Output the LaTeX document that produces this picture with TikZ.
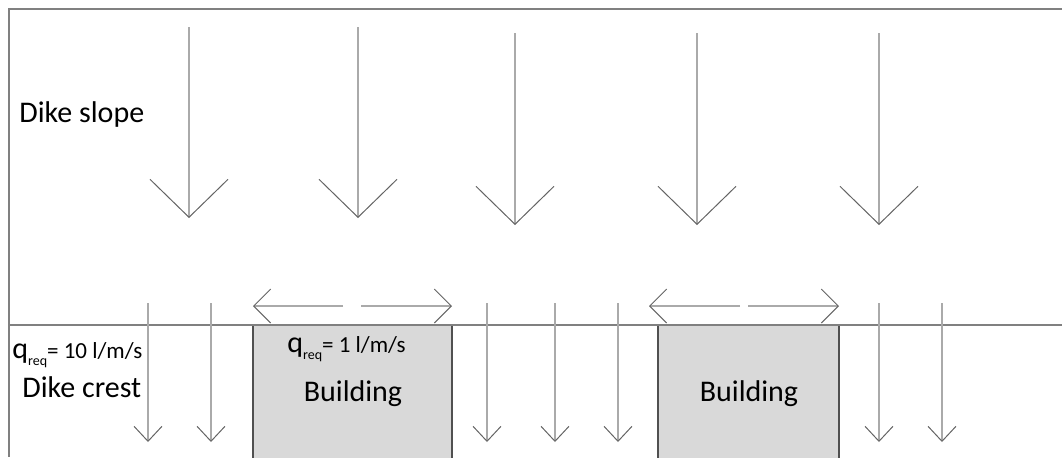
\documentclass[tikz,border=0pt]{standalone}
\usepackage{fontspec}
\setmainfont{Carlito}
\usepackage{tikz}
\usepackage{xcolor}
\usetikzlibrary{arrows.meta, positioning, calc}
\definecolor{cFrame}{RGB}{128,128,128}
\definecolor{cShaft}{RGB}{170,170,170}
\definecolor{cHead}{RGB}{100,100,100}
\definecolor{cWall}{RGB}{80,80,80}
\definecolor{cFill}{RGB}{217,217,217}
\tikzset{
	zoneline/.style ={draw=cFrame, line width=1pt},
	building/.style ={rectangle, draw=cWall, line width=0.6pt, fill=cFill, minimum width=99.5pt, minimum height=70pt, inner sep=0pt},
	slopeflow/.style={draw=cShaft, line width=0.7pt, -{Straight Barb[length=19pt, width=39pt, color=cHead, line width=0.5pt]}},
	crestflow/.style={draw=cShaft, line width=0.7pt, -{Straight Barb[length=7.5pt, width=14pt, color=cHead, line width=0.5pt]}},
	spread/.style   ={draw=cShaft, line width=0.7pt, -{Straight Barb[length=8.5pt, width=17pt, color=cHead, line width=0.5pt]}},
	bigtxt/.style   ={font=\fontsize{15}{18}\selectfont, inner sep=0pt, anchor=base west},
}
\newcommand{\qreq}[1]{{\fontsize{15}{18}\selectfont q}\raisebox{-3.5pt}{\fontsize{7}{8}\selectfont req}{\fontsize{11.5}{14}\selectfont= #1 l/m/s}}

\begin{document}
\begin{tikzpicture}[x=0.5pt, y=-0.5pt]
	\useasboundingbox (0,0) rectangle (1062,457);
	% buildings on the crest
	\node[building] (bldA) at (352.5,395) {};
	\node[building, minimum width=90.5pt] (bldB) at (748.5,395) {};
	% zones
	\draw[zoneline] (1062,9) -- (9,9) -- (9,457);
	\draw[zoneline] (9,325) -- (1062,325);
	% labels
	\node[bigtxt] (slope) at (19,122) {Dike slope};
	\node[inner sep=0pt, anchor=base west] (qcrest) at (12,358) {\qreq{10}};
	\node[bigtxt] (crest) at (22,397) {Dike crest};
	\node[inner sep=0pt, anchor=base west] (qbld) at (287,352) {\qreq{1}};
	\node[bigtxt, anchor=base] (txtA) at (353,401) {Building};
	\node[bigtxt, anchor=base] (txtB) at (749,401) {Building};
	% overtopping flow on the slope
	\foreach \x/\ya/\yb [count=\i] in {189/27/218, 358/27/218, 515/33/225, 697/33/225, 879/33/225} {
		\coordinate (sa\i) at (\x,\ya); \coordinate (sb\i) at (\x,\yb);
		\draw[slopeflow] (sa\i) -- (sb\i);
	}
	% flow over the crest
	\foreach \x [count=\i] in {148, 211, 487, 555, 618, 879, 942} {
		\coordinate (ca\i) at (\x,303); \coordinate (cb\i) at (\x,442);
		\draw[crestflow] (ca\i) -- (cb\i);
	}
	% flow diverted round the buildings
	\coordinate (dA1) at (343,306); \coordinate (dA2) at (361,306);
	\coordinate (dB1) at (740,306); \coordinate (dB2) at (748,306);
	\coordinate (eA1) at (253,306); \coordinate (eA2) at (452,306);
	\coordinate (eB1) at (649,306); \coordinate (eB2) at (839,306);
	\draw[spread] (dA1) -- (eA1); \draw[spread] (dA2) -- (eA2);
	\draw[spread] (dB1) -- (eB1); \draw[spread] (dB2) -- (eB2);
\end{tikzpicture}
\end{document}
